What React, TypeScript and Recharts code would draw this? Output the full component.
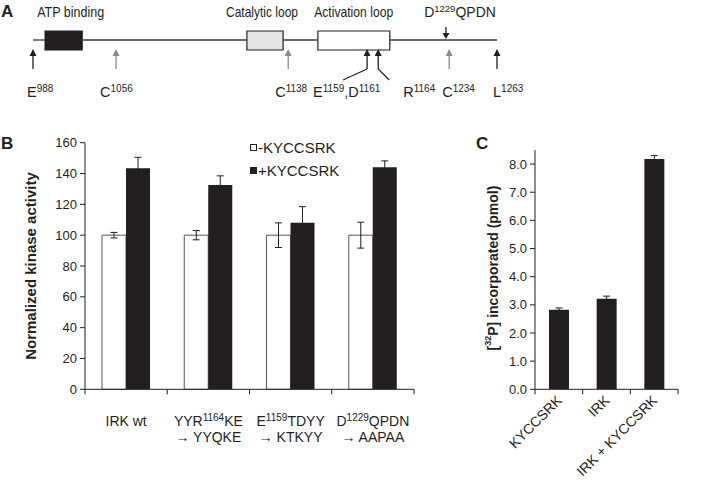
import React from 'react';
import {
  BarChart,
  Bar,
  ComposedChart,
  Scatter,
  ReferenceArea,
  ReferenceLine,
  XAxis,
  YAxis,
  ErrorBar,
  Legend
} from 'recharts';

const FONT = '"Liberation Sans", Arial, sans-serif';
const INK = '#231f20';
const GREY_ARROW = '#8a8a8a';

// ---- Panel A: kinase domain schematic (positions along the track, 0 = E988, 100 = L1263)
const boxStarts = [2.6, 46.1, 61.4];
const boxEnds = [10.6, 53.9, 76.9];
const boxFills = [INK, '#e6e6e6', '#ffffff'];
const topLabels = [['ATP binding'], ['Catalytic loop'], ['Activation loop'], ['D', '1229', 'QPDN']];
const topLabelPos = [0.9, 41.6, 60.6, 84.3];
const motifPos = [89.0];

const siteLabels = [['E', '988'], ['C', '1056'], ['C', '1138'], ['E', '1159', ',D', '1161'], ['R', '1164'], ['C', '1234'], ['L', '1263']];
const sitePos = [0, 17.9, 55.0, 72.0, 74.4, 89.7, 100];
const siteIsCys = [false, true, true, false, false, true, false];
// label / leader offsets and fitted label widths in px (layout only)
const siteLabelDx = [-6, -16, -13, -54, 25, -7, -4];
const siteLeaderDx = [0, 0, 0, -24, 11, 0, 0];
const topLabelWidth = [67, 72, 79, 0];

// ---- Panel B: normalized kinase activity
const groupsB = ['IRK wt', 'YYR1164KE', 'E1159TDYY', 'D1229QPDN'];
const minusValues = [100, 100, 100, 100];
const minusErrors = [1.8, 3, 8, 8.4];
const plusValues = [143.5, 132.5, 108, 144];
const plusErrors = [7, 6, 10.5, 4.2];
const legendB = ['-KYCCSRK', '+KYCCSRK'];
const ticksB = [0, 20, 40, 60, 80, 100, 120, 140, 160];
const xLabelsB = [
  [['IRK wt']],
  [['YYR', '1164', 'KE'], ['\u2192 YYQKE']],
  [['E', '1159', 'TDYY'], ['\u2192 KTKYY']],
  [['D', '1229', 'QPDN'], ['\u2192 AAPAA']]
];

// ---- Panel C: 32P incorporation
const samplesC = ['KYCCSRK', 'IRK', 'IRK + KYCCSRK'];
const pmolC = [2.83, 3.22, 8.18];
const pmolErrC = [0.06, 0.09, 0.12];
const ticksC = [0, 1, 2, 3, 4, 5, 6, 7, 8];

const dataB = groupsB.map((g, i) => ({
  group: g,
  minus: minusValues[i],
  minusErr: minusErrors[i],
  plus: plusValues[i],
  plusErr: plusErrors[i]
}));
const dataC = samplesC.map((s, i) => ({ sample: s, pmol: pmolC[i], err: pmolErrC[i] }));

// layout
const B_W = 460, B_H = 366;
const B_MARGIN = { top: 22.7, right: 46, bottom: 36.7, left: 40 };
const B_YW = 45;
const CAT_W_B = (B_W - B_MARGIN.left - B_MARGIN.right - B_YW) / groupsB.length;

const C_W = 258, C_H = 366;
const C_MARGIN = { top: 30, right: 40, bottom: 16.7, left: 35 };
const C_YW = 40;
const CAT_W_C = (C_W - C_MARGIN.left - C_MARGIN.right - C_YW) / samplesC.length;

// text with superscripts: odd segments are superscript
const Segs = ({ segs, supSize = 10 }: { segs: string[]; supSize?: number }) => (
  <>
    {segs.map((s, i) =>
      i % 2 === 1 ? (
        <tspan key={i} fontSize={supSize} dy={-5}>{s}</tspan>
      ) : (
        <tspan key={i} dy={i > 0 ? 5 : 0}>{s}</tspan>
      )
    )}
  </>
);

const VLabel = ({ px, py, text, size }: any) => (
  <text
    x={px}
    y={py}
    transform={`rotate(-90 ${px} ${py})`}
    textAnchor="middle"
    dominantBaseline="central"
    fontWeight="bold"
    fontSize={size}
    fontFamily={FONT}
    fill={INK}
  >
    {text}
  </text>
);

// ---------- Panel A ----------
const SiteMark = (props: any) => {
  const { cx, cy, payload } = props;
  const i = payload.idx;
  const col = siteIsCys[i] ? GREY_ARROW : INK;
  const tip = cy + 9;
  const base = cy + 29;
  const lead = siteLeaderDx[i];
  return (
    <g>
      <line x1={cx} x2={cx} y1={tip + 6} y2={base} stroke={col} strokeWidth={1.3} />
      <polygon points={`${cx - 3.5},${tip + 7} ${cx + 3.5},${tip + 7} ${cx},${tip}`} fill={col} />
      {lead !== 0 && (
        <line x1={cx} y1={base} x2={cx + lead} y2={base + 11} stroke={INK} strokeWidth={1.1} />
      )}
      <text x={cx + siteLabelDx[i]} y={cy + 57} fontSize={14.5} fontFamily={FONT} fill={INK}>
        <Segs segs={siteLabels[i]} />
      </text>
    </g>
  );
};

const TopLabel = (props: any) => {
  const { cx, cy, payload } = props;
  const w = topLabelWidth[payload.idx];
  return (
    <text
      x={cx}
      y={cy - 23}
      fontSize={w ? 15 : 14}
      fontFamily={FONT}
      fill={INK}
      {...(w ? { textLength: w, lengthAdjust: 'spacingAndGlyphs' } : {})}
    >
      <Segs segs={topLabels[payload.idx]} supSize={9.5} />
    </text>
  );
};

const MotifArrow = (props: any) => {
  const { cx, cy } = props;
  return (
    <g>
      <line x1={cx} x2={cx} y1={cy - 13} y2={cy - 6} stroke={INK} strokeWidth={1.3} />
      <polygon points={`${cx - 3.5},${cy - 7} ${cx + 3.5},${cy - 7} ${cx},${cy - 1}`} fill={INK} />
    </g>
  );
};

const trackSegs = [0, ...boxEnds].map((from, i) => [from, i < boxStarts.length ? boxStarts[i] : 100]);

const SchematicA = () => (
  <ComposedChart width={718} height={110} margin={{ top: 0, right: 221, bottom: 30, left: 33 }}>
    <XAxis type="number" dataKey="pos" domain={[0, 100]} hide />
    <YAxis type="number" dataKey="lvl" domain={[-40, 40]} hide />
    {trackSegs.map(([a, b], i) => (
      <ReferenceLine key={`t${i}`} segment={[{ x: a, y: 0 }, { x: b, y: 0 }]} stroke="#3a3a3a" strokeWidth={1.3} />
    ))}
    {boxStarts.map((s, i) => (
      <ReferenceArea
        key={`b${i}`}
        x1={s}
        x2={boxEnds[i]}
        y1={-10}
        y2={9}
        fill={boxFills[i]}
        fillOpacity={1}
        stroke={INK}
        strokeWidth={1.2}
      />
    ))}
    <Scatter
      data={sitePos.map((p, idx) => ({ pos: p, lvl: 0, idx }))}
      shape={SiteMark}
      isAnimationActive={false}
    />
    <Scatter
      data={topLabelPos.map((p, idx) => ({ pos: p, lvl: 0, idx }))}
      shape={TopLabel}
      isAnimationActive={false}
    />
    <Scatter data={motifPos.map((p) => ({ pos: p, lvl: 0 }))} shape={MotifArrow} isAnimationActive={false} />
  </ComposedChart>
);

// ---------- Panel B ----------
const TickB = (props: any) => {
  const { x, y, index } = props;
  const lines = xLabelsB[index] || [];
  const half = CAT_W_B / 2;
  return (
    <g>
      <line x1={x - half} x2={x - half} y1={y} y2={y + 5} stroke={INK} />
      {index === xLabelsB.length - 1 && <line x1={x + half} x2={x + half} y1={y} y2={y + 5} stroke={INK} />}
      {lines.map((segs, li) => (
        <text key={li} x={x} y={y + 37 + li * 16} textAnchor="middle" fontSize={14} fontFamily={FONT} fill={INK}>
          <Segs segs={segs} />
        </text>
      ))}
    </g>
  );
};

const LegendB = () => (
  <div style={{ fontFamily: FONT, fontSize: 15, color: INK, lineHeight: '23px' }}>
    {legendB.map((t, i) => (
      <div key={t} style={{ display: 'flex', alignItems: 'center', whiteSpace: 'nowrap' }}>
        <span
          style={{
            display: 'inline-block',
            width: 5,
            height: 5,
            border: `1px solid ${INK}`,
            background: i ? INK : '#fff',
            marginRight: 1
          }}
        />
        {t}
      </div>
    ))}
  </div>
);

const ChartB = () => (
  <BarChart width={B_W} height={B_H} data={dataB} margin={B_MARGIN} barGap={0} barSize={24}>
    <XAxis
      dataKey="group"
      interval={0}
      height={60}
      tickLine={false}
      tickSize={0}
      tickMargin={0}
      axisLine={{ stroke: INK }}
      tick={TickB}
    />
    <YAxis
      width={B_YW}
      domain={[0, 160]}
      ticks={ticksB}
      interval={0}
      tickSize={5}
      tickMargin={3}
      axisLine={{ stroke: INK }}
      tickLine={{ stroke: INK }}
      tick={{ fontSize: 13, fill: INK, fontFamily: FONT }}
      label={<VLabel px={30} py={146} text="Normalized kinase activity" size={15} />}
    />
    <Legend
      layout="horizontal"
      verticalAlign="middle"
      align="center"
      wrapperStyle={{ left: 250, top: 16, width: 120 }}
      content={LegendB}
    />
    <Bar dataKey="minus" fill="#ffffff" stroke="#555555" strokeWidth={1} isAnimationActive={false}>
      <ErrorBar dataKey="minusErr" direction="y" width={3.5} stroke={INK} strokeWidth={1} />
    </Bar>
    <Bar dataKey="plus" fill={INK} isAnimationActive={false}>
      <ErrorBar dataKey="plusErr" direction="y" width={3.5} stroke={INK} strokeWidth={1} />
    </Bar>
  </BarChart>
);

// ---------- Panel C ----------
const TickC = (props: any) => {
  const { x, y, index, payload } = props;
  const half = CAT_W_C / 2;
  const tx = x + 4;
  const ty = y + 12;
  return (
    <g>
      <line x1={x - half} x2={x - half} y1={y} y2={y + 5} stroke={INK} />
      {index === samplesC.length - 1 && <line x1={x + half} x2={x + half} y1={y} y2={y + 5} stroke={INK} />}
      <text
        x={tx}
        y={ty}
        transform={`rotate(-45 ${tx} ${ty})`}
        textAnchor="end"
        fontSize={14}
        fontFamily={FONT}
        fill={INK}
      >
        {payload.value}
      </text>
    </g>
  );
};

const ChartC = () => (
  <BarChart width={C_W} height={C_H} data={dataC} margin={C_MARGIN} barSize={20}>
    <XAxis
      dataKey="sample"
      interval={0}
      height={80}
      tickLine={false}
      tickSize={0}
      tickMargin={0}
      axisLine={{ stroke: INK }}
      tick={TickC}
    />
    <YAxis
      width={C_YW}
      domain={[0, 8.5]}
      ticks={ticksC}
      interval={0}
      allowDataOverflow
      tickFormatter={(v: number) => v.toFixed(1)}
      tickSize={5}
      tickMargin={3}
      axisLine={{ stroke: INK }}
      tickLine={{ stroke: INK }}
      tick={{ fontSize: 13, fill: INK, fontFamily: FONT }}
      label={
        <VLabel
          px={33}
          py={148}
          text={
            <>
              [<tspan fontSize={9} dy={-5}>32</tspan>
              <tspan dy={5}>P] incorporated (pmol)</tspan>
            </>
          }
          size={14}
        />
      }
    />
    <Bar dataKey="pmol" fill={INK} isAnimationActive={false}>
      <ErrorBar dataKey="err" direction="y" width={3.5} stroke={INK} strokeWidth={1} />
    </Bar>
  </BarChart>
);

const letter = (t: string, left: number, top: number) => (
  <div style={{ position: 'absolute', left, top, fontSize: 17, fontWeight: 'bold', lineHeight: 1 }}>{t}</div>
);

export default function App() {
  return (
    <div
      style={{
        position: 'absolute',
        left: 0,
        top: 0,
        width: 718,
        height: 486,
        background: '#fff',
        fontFamily: FONT,
        color: INK,
        overflow: 'hidden'
      }}
    >
      <div style={{ position: 'absolute', left: 0, top: 0 }}>
        <SchematicA />
      </div>
      <div style={{ position: 'absolute', left: 0, top: 120 }}>
        <ChartB />
      </div>
      <div style={{ position: 'absolute', left: 460, top: 120 }}>
        <ChartC />
      </div>
      {letter('A', 1, 3)}
      {letter('B', 1, 135)}
      {letter('C', 476, 135)}
    </div>
  );
}
